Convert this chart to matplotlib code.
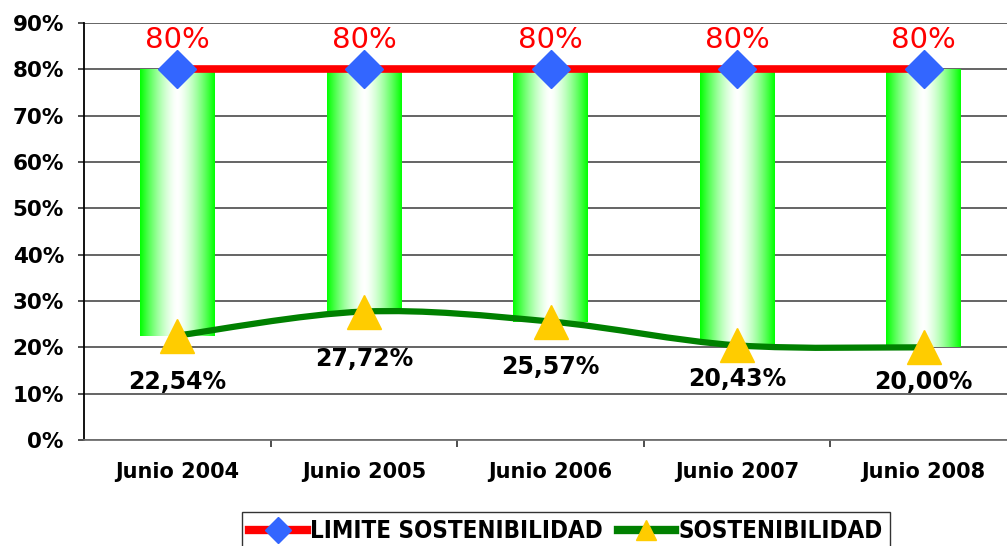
import numpy as np
import matplotlib
matplotlib.use('Agg')
import matplotlib.pyplot as plt
from matplotlib.lines import Line2D
from matplotlib.path import Path
from matplotlib.patches import PathPatch
from matplotlib.ticker import FuncFormatter, MultipleLocator

# chart data
categories = ['Junio 2004', 'Junio 2005', 'Junio 2006', 'Junio 2007', 'Junio 2008']
limite = [80, 80, 80, 80, 80]
sostenibilidad = [22.54, 27.72, 25.57, 20.43, 20.00]
# how far below each point its label sits (points), excel nudged the last two
label_drop = [33.5, 34.3, 32.8, 24, 25]

fig = plt.figure(figsize=(10.07, 5.46), dpi=100)
ax = fig.add_axes([84 / 1007, 106 / 546, 933 / 1007, 417 / 546])

x = np.arange(len(categories))
lim = np.array(limite, dtype=float)
sost = np.array(sostenibilidad, dtype=float)

# floating bars between the two series, filled with a green-white-green gradient
bars = ax.bar(x, lim - sost, bottom=sost, width=0.4, color='none', edgecolor='none', zorder=2)
t = np.linspace(-1, 1, 256)
w = 1 - np.abs(t) ** 1.5
grad = np.dstack([w, np.ones_like(w), w])  # shape (1, 256, 3)
for b in bars:
    x0, y0 = b.get_x(), b.get_y()
    im = ax.imshow(grad, extent=[x0, x0 + b.get_width(), y0, y0 + b.get_height()],
                   aspect='auto', interpolation='bilinear', zorder=2)
    im.set_clip_path(b)

# red limit line with diamonds
ax.plot(x, lim, color='red', lw=5.5, solid_capstyle='butt', zorder=3)
ax.plot(x, lim, ls='none', marker='D', ms=19, mfc='#3366FF', mec='#3366FF', zorder=5)

# smoothed green line (catmull-rom as bezier, like excel)
pts = np.column_stack([x, sost])
ext = np.vstack([pts[0], pts, pts[-1]])
verts = [tuple(pts[0])]
codes = [Path.MOVETO]
for i in range(len(pts) - 1):
    p0, p1, p2, p3 = ext[i], ext[i + 1], ext[i + 2], ext[i + 3]
    c1 = p1 + (p2 - p0) / 6
    c2 = p2 - (p3 - p1) / 6
    verts += [tuple(c1), tuple(c2), tuple(p2)]
    codes += [Path.CURVE4] * 3
ax.add_patch(PathPatch(Path(verts, codes), fill=False, edgecolor='#008000', lw=4.5, zorder=3))
ax.plot(x, sost, ls='none', marker='^', ms=25, mfc='#FFCC00', mec='#FFCC00', zorder=5)

# data labels
for xi, v in zip(x, lim):
    ax.annotate(f'{v:.0f}%', (xi, v), xytext=(0, 21), textcoords='offset points',
                ha='center', va='center', color='red', fontsize=21, zorder=6)
for xi, v, d in zip(x, sost, label_drop):
    ax.annotate(f'{v:.2f}'.replace('.', ',') + '%', (xi, v), xytext=(0, -d),
                textcoords='offset points', ha='center', va='center',
                fontsize=17, fontweight='bold', color='black', zorder=6)

# axes
ax.set_xlim(-0.5, len(categories) - 0.5)
ax.set_ylim(0, 90)
ax.yaxis.set_major_locator(MultipleLocator(10))
ax.yaxis.set_major_formatter(FuncFormatter(lambda v, p: f'{v:.0f}%'))
ax.grid(axis='y', color='#3a3a3a', lw=1.1, zorder=0)
ax.set_axisbelow(True)
for s in ['top', 'right']:
    ax.spines[s].set_visible(False)
ax.spines['left'].set_color('black')
ax.spines['left'].set_linewidth(1.3)
ax.spines['bottom'].set_color('#707070')
ax.spines['bottom'].set_linewidth(1.3)

ax.set_xticks(x)
ax.set_xticklabels(categories)
ax.set_xticks(np.arange(0.5, len(categories) - 0.5), minor=True)
ax.tick_params(axis='x', which='major', length=0, pad=16, labelsize=15)
ax.tick_params(axis='x', which='minor', length=5, width=1.2, color='#303030', direction='out')
ax.tick_params(axis='y', length=4.5, width=1.2, color='#303030', pad=10, labelsize=15.5)
for lbl in ax.get_xticklabels() + ax.get_yticklabels():
    lbl.set_fontweight('bold')

# legend
handles = [
    Line2D([], [], color='red', lw=6, marker='D', ms=13, mfc='#3366FF', mec='#3366FF'),
    Line2D([], [], color='#008000', lw=6, marker='^', ms=15, mfc='#FFCC00', mec='#FFCC00'),
]
leg = fig.legend(handles, ['LIMITE SOSTENIBILIDAD', 'SOSTENIBILIDAD'], loc='upper left',
                 bbox_to_anchor=(242 / 1007, 1 - 512 / 546), borderaxespad=0, ncol=2,
                 fancybox=False, frameon=True, edgecolor='black', handlelength=2.4,
                 handletextpad=0.15, columnspacing=0.6, borderpad=0.3,
                 prop={'family': ['DejaVu Sans'], 'stretch': 'condensed', 'weight': 'bold', 'size': 17.3})
leg.get_frame().set_linewidth(1.0)

fig.savefig('out.png', dpi=100)
